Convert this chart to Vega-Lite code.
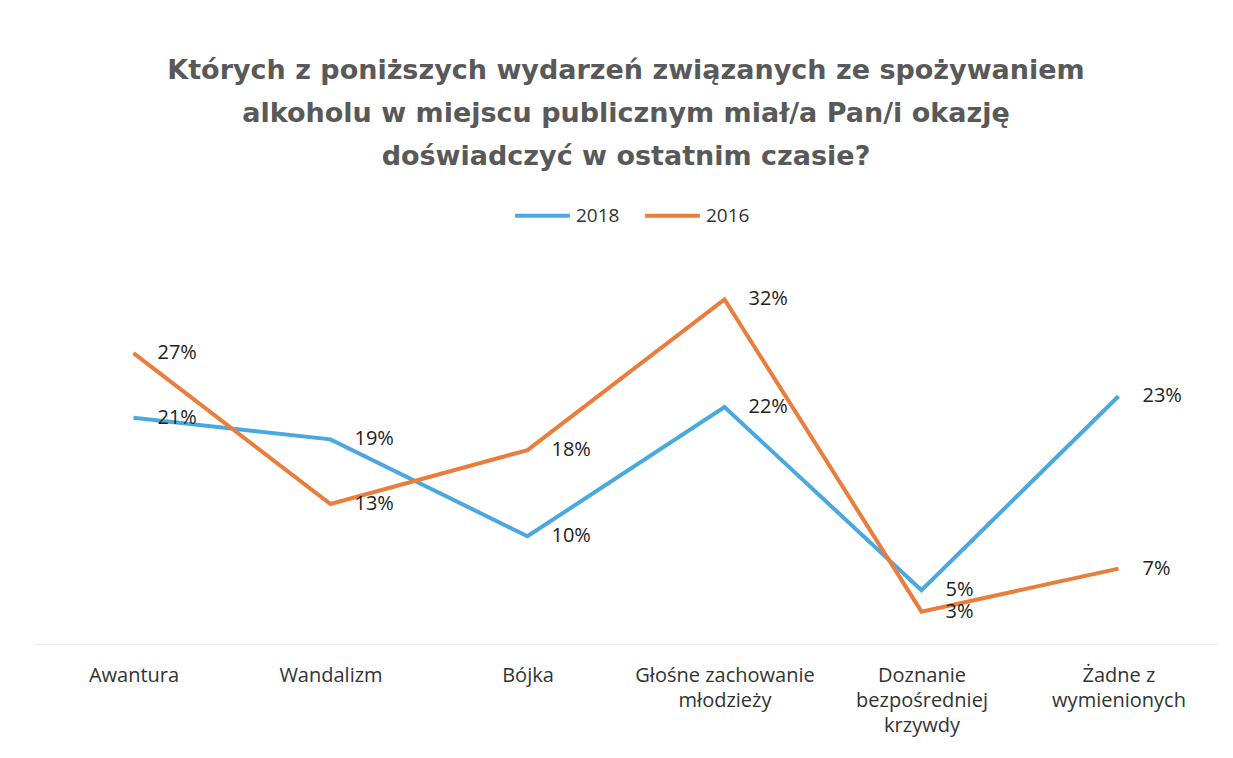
{
  "$schema": "https://vega.github.io/schema/vega-lite/v6.json",
  "width": 1182,
  "height": 377,
  "autosize": "none",
  "padding": {"left": 35, "top": 267, "right": 16, "bottom": 114},
  "background": "white",
  "config": {"view": {"stroke": null}},
  "title": {
    "text": ["Których z poniższych wydarzeń związanych ze spożywaniem", "alkoholu w miejscu publicznym miał/a Pan/i okazję", "doświadczyć w ostatnim czasie?"],
    "font": "DejaVu Sans",
    "fontSize": 27,
    "fontWeight": "bold",
    "color": "#595959",
    "anchor": "middle",
    "frame": "group",
    "lineHeight": 43,
    "offset": 15
  },
  "data": {
    "values": [
      {"category": "Awantura", "year": "2018", "value": 0.21},
      {"category": "Wandalizm", "year": "2018", "value": 0.19},
      {"category": "Bójka", "year": "2018", "value": 0.10},
      {"category": "Głośne zachowanie młodzieży", "year": "2018", "value": 0.22},
      {"category": "Doznanie bezpośredniej krzywdy", "year": "2018", "value": 0.05},
      {"category": "Żadne z wymienionych", "year": "2018", "value": 0.23},
      {"category": "Awantura", "year": "2016", "value": 0.27},
      {"category": "Wandalizm", "year": "2016", "value": 0.13},
      {"category": "Bójka", "year": "2016", "value": 0.18},
      {"category": "Głośne zachowanie młodzieży", "year": "2016", "value": 0.32},
      {"category": "Doznanie bezpośredniej krzywdy", "year": "2016", "value": 0.03},
      {"category": "Żadne z wymienionych", "year": "2016", "value": 0.07}
    ]
  },
  "encoding": {
    "x": {
      "field": "category",
      "type": "nominal",
      "sort": null,
      "scale": {"type": "point", "padding": 0.5},
      "axis": {
        "title": null,
        "labelAngle": 0,
        "labelFont": "Open Sans",
        "labelFontSize": 20,
        "labelColor": "#333333",
        "labelPadding": 21,
        "labelLineHeight": 25,
        "labelLimit": 400,
        "ticks": false,
        "grid": false,
        "domainColor": "#e8e8e8",
        "domainWidth": 1,
        "labelExpr": "datum.value == 'Głośne zachowanie młodzieży' ? ['Głośne zachowanie', 'młodzieży'] : datum.value == 'Doznanie bezpośredniej krzywdy' ? ['Doznanie', 'bezpośredniej', 'krzywdy'] : datum.value == 'Żadne z wymienionych' ? ['Żadne z', 'wymienionych'] : datum.value"
      }
    },
    "y": {
      "field": "value",
      "type": "quantitative",
      "scale": {"domain": [0, 0.35]},
      "axis": null
    },
    "color": {
      "field": "year",
      "type": "nominal",
      "scale": {"domain": ["2018", "2016"], "range": ["#4AA8E0", "#EB7D3C"]},
      "legend": {
        "orient": "none",
        "legendX": 478,
        "legendY": -81,
        "direction": "horizontal",
        "title": null,
        "symbolType": "stroke",
        "symbolStrokeWidth": 4,
        "symbolSize": 3000,
        "labelFont": "Open Sans",
        "labelFontSize": 19,
        "labelColor": "#333333",
        "columnPadding": 17,
        "labelOffset": 4
      }
    }
  },
  "layer": [
    {"mark": {"type": "line", "strokeWidth": 4}},
    {
      "mark": {"type": "text", "align": "left", "baseline": "middle", "dx": 24, "font": "Open Sans", "fontSize": 20},
      "encoding": {
        "text": {"field": "value", "type": "quantitative", "format": ".0%"},
        "color": {"value": "#222222"}
      }
    }
  ]
}
